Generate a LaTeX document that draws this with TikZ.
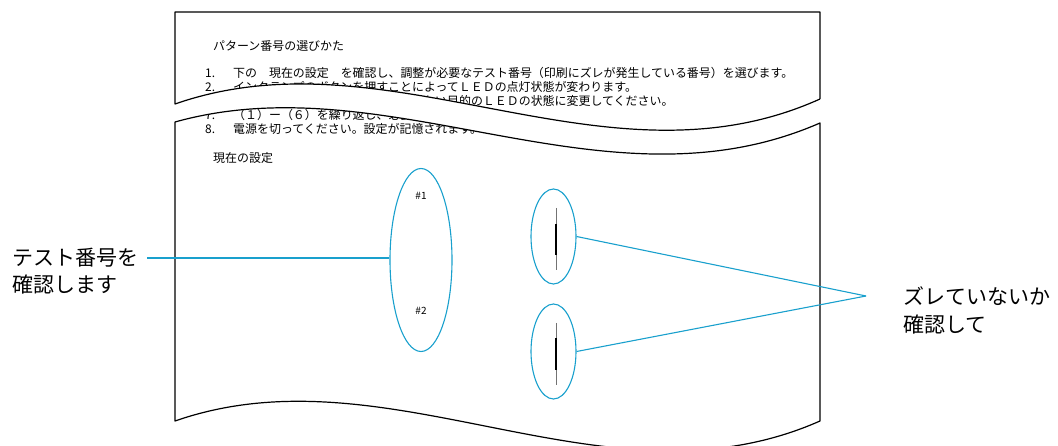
\documentclass[tikz,border=0pt]{standalone}
\usepackage{fontspec}
\setmainfont{Noto Sans CJK JP}
\usetikzlibrary{shapes.geometric}
\definecolor{lineblue}{RGB}{25,160,205}
\begin{document}
\begin{tikzpicture}[x=1pt,y=-1pt,
  txt/.style={font=\fontsize{11.95}{14}\selectfont, anchor=base west, inner sep=0pt},
  lbl/.style={font=\fontsize{21}{27}\selectfont, anchor=base west, inner sep=0pt},
  tag/.style={font=\fontsize{10}{11}\selectfont, inner sep=0pt},
  sheet/.style={draw=black, line width=1.2pt, line join=round},
  hl/.style={draw=lineblue, line width=1.1pt},
  mark thin/.style={draw=black!55, line width=0.8pt},
  mark thick/.style={draw=black, line width=1.7pt}]
\useasboundingbox (0,0) rectangle (1058,446);

% ---- printed text on the sheets ----
\node[txt] (title) at (213,50.5) {パターン番号の選びかた};
\node[txt] (l1) at (205,77.5) {\makebox[28pt][l]{1.}下の　現在の設定　を確認し、調整が必要なテスト番号（印刷にズレが発生している番号）を選びます。};
\node[txt] (l2) at (205,91.5) {\makebox[28pt][l]{2.}インクランプのボタンを押すことによってＬＥＤの点灯状態が変わります。};
\node[txt] (l3) at (205,105.5) {\makebox[28pt][l]{6.}調整ボタンを押して、ズレのより少ない目的のＬＥＤの状態に変更してください。};
\node[txt] (l7) at (205,119.5) {\makebox[28pt][l]{7.}（１）ー（６）を繰り返し、必要に応じて調整。};
\node[txt] (l8) at (205,133.5) {\makebox[28pt][l]{8.}電源を切ってください。設定が記憶されます。};
\node[txt] (cur) at (213,162.5) {現在の設定};

% ---- break between the two sheets ----
\fill[white] (175,104) .. controls (390,29) and (605,196) .. (820,99)
  -- (820,123) .. controls (605,217) and (390,62) .. (175,122) -- cycle;
\draw[sheet] (820,99) -- (820,12) -- (175,12) -- (175,104)
  .. controls (390,29) and (605,196) .. (820,99);
\draw[sheet] (175,122) .. controls (390,62) and (605,217) .. (820,123)
  -- (820,421) .. controls (605,516) and (390,346) .. (175,421) -- cycle;

% ---- test pattern marks ----
\node[ellipse, hl, minimum width=62pt, minimum height=183pt, inner sep=0pt] (big) at (421,260) {};
\node[tag] (t1) at (421,196) {\#1};
\node[tag] (t2) at (421,311) {\#2};

\node[ellipse, hl, minimum width=45pt, minimum height=95pt, inner sep=0pt] (s1) at (553.5,236.5) {};
\node[ellipse, hl, minimum width=45pt, minimum height=95pt, inner sep=0pt] (s2) at (553.5,351.5) {};
\draw[mark thin] (s1.center) ++(2.5,-28.5) -- ++(0,62);
\draw[mark thick] (s1.center) ++(2.5,-12.5) -- ++(0,31);
\draw[mark thin] (s2.center) ++(2.5,-28.5) -- ++(0,62);
\draw[mark thick] (s2.center) ++(2.5,-13.5) -- ++(0,32);

% ---- callouts ----
\node[lbl] (la1) at (12,266) {テスト番号を};
\node[lbl] (la2) at (12,293) {確認します};
\coordinate (lc) at (147,258);
\draw[hl] (lc) -- (lc -| big.west);

\node[lbl] (ra1) at (903,305) {ズレていないか};
\node[lbl] (ra2) at (903,333) {確認して};
\coordinate (rc) at (866,296);
\draw[hl] (s1.east) -- (rc);
\draw[hl] (s2.east) -- (rc);
\end{tikzpicture}
\end{document}
